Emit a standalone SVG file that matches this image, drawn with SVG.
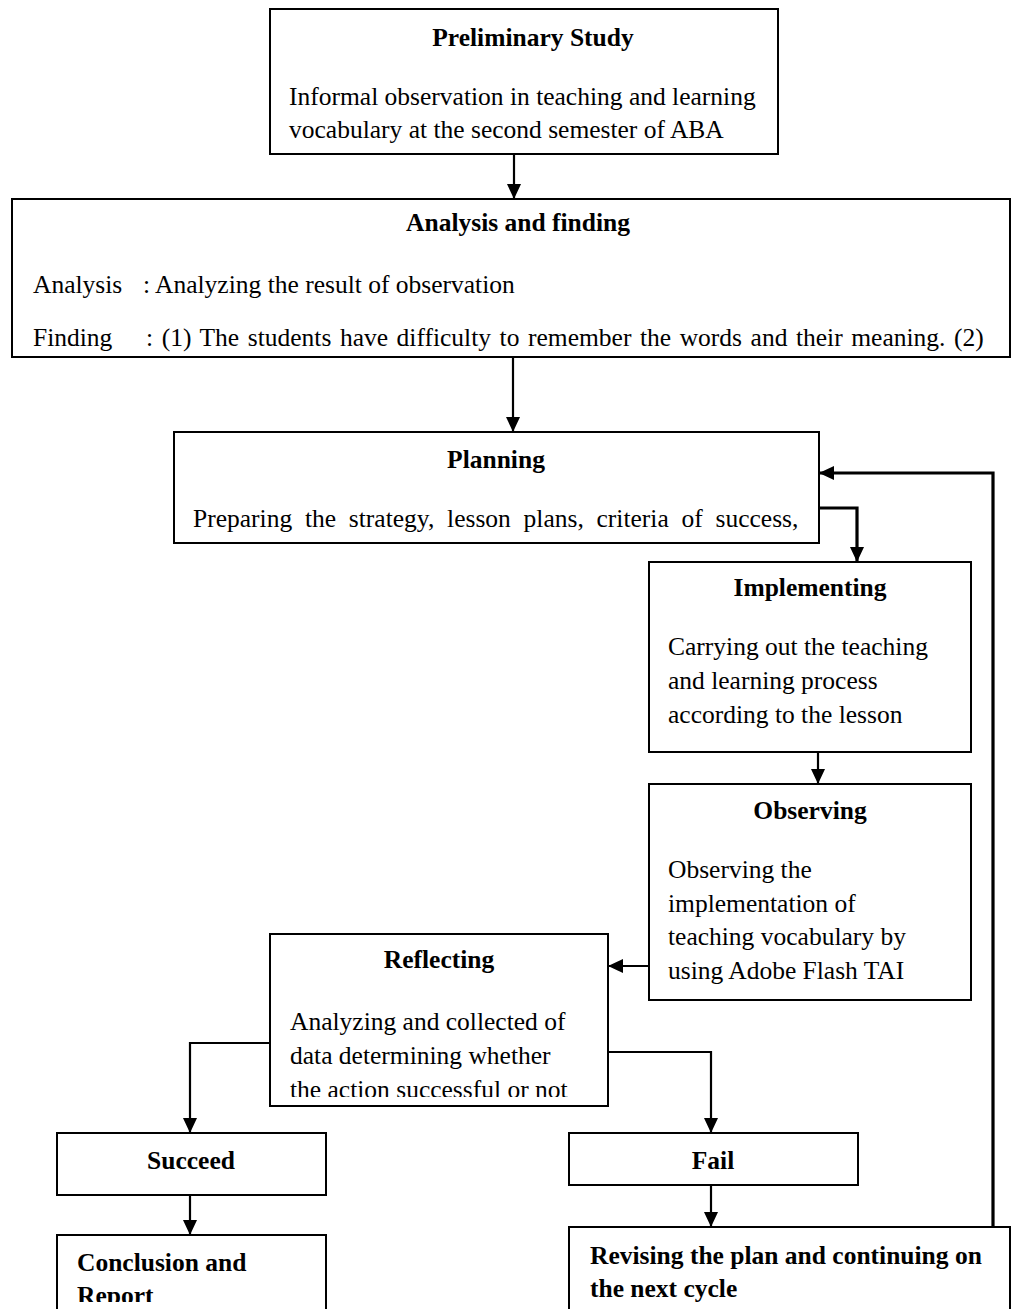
<svg xmlns="http://www.w3.org/2000/svg" width="1012" height="1309" viewBox="0 0 1012 1309">
<style>
  .box { fill: #fff; stroke: #000; stroke-width: 2; }
  .t { font-family: "Liberation Serif", "Times New Roman", serif; font-size: 25.5px; fill: #000; }
  .b { font-weight: bold; }
  .c { text-anchor: middle; }
  .ln { fill: none; stroke: #000; stroke-width: 2.2; }
  .thick { stroke-width: 3.2; }
</style>
<defs>
  <marker id="ah" markerWidth="15" markerHeight="14" refX="15" refY="7" orient="auto" markerUnits="userSpaceOnUse">
    <path d="M0,0 L15,7 L0,14 z" fill="#000"/>
  </marker>
  <clipPath id="clipRefl"><rect x="270" y="934" width="338" height="163"/></clipPath>
  <clipPath id="clipConc"><rect x="57" y="1235" width="269" height="67"/></clipPath>
</defs>
<rect width="1012" height="1309" fill="#fff"/>

<g id="connectors">
  <path class="ln" d="M514,154 L514,199" marker-end="url(#ah)"/>
  <path class="ln" d="M513,357 L513,432" marker-end="url(#ah)"/>
  <path class="ln thick" d="M819,508 L857,508 L857,562" marker-end="url(#ah)"/>
  <path class="ln" d="M818,752 L818,784" marker-end="url(#ah)"/>
  <path class="ln" d="M649,966 L608,966" marker-end="url(#ah)"/>
  <path class="ln" d="M270,1043 L190,1043 L190,1133" marker-end="url(#ah)"/>
  <path class="ln" d="M608,1052 L711,1052 L711,1133" marker-end="url(#ah)"/>
  <path class="ln" d="M190,1195 L190,1235" marker-end="url(#ah)"/>
  <path class="ln" d="M711,1185 L711,1227" marker-end="url(#ah)"/>
  <path class="ln thick" d="M993,1227 L993,473 L819,473" marker-end="url(#ah)"/>
</g>

<g id="preliminary">
  <rect class="box" x="270" y="9" width="508" height="145"/>
  <text class="t b c" x="533" y="46">Preliminary Study</text>
  <text class="t" x="289" y="105">Informal observation in teaching and learning</text>
  <text class="t" x="289" y="138">vocabulary at the second semester of ABA</text>
</g>

<g id="analysis">
  <rect class="box" x="12" y="199" width="998" height="158"/>
  <text class="t b c" x="518" y="231">Analysis and finding</text>
  <text class="t" x="33" y="293">Analysis</text>
  <text class="t" x="143" y="293">: Analyzing the result of observation</text>
  <text class="t" x="33" y="346">Finding</text>
  <text class="t" x="146" y="346" word-spacing="2.2">: (1) The students have difficulty to remember the words and their meaning. (2)</text>
</g>

<g id="planning">
  <rect class="box" x="174" y="432" width="645" height="111"/>
  <text class="t b c" x="496" y="468">Planning</text>
  <text class="t" x="193" y="527" word-spacing="6.4">Preparing the strategy, lesson plans, criteria of success,</text>
</g>

<g id="implementing">
  <rect class="box" x="649" y="562" width="322" height="190"/>
  <text class="t b c" x="810" y="596">Implementing</text>
  <text class="t" x="668" y="655">Carrying out the teaching</text>
  <text class="t" x="668" y="689">and learning process</text>
  <text class="t" x="668" y="723">according to the lesson</text>
</g>

<g id="observing">
  <rect class="box" x="649" y="784" width="322" height="216"/>
  <text class="t b c" x="810" y="819">Observing</text>
  <text class="t" x="668" y="878">Observing the</text>
  <text class="t" x="668" y="912">implementation of</text>
  <text class="t" x="668" y="945">teaching vocabulary by</text>
  <text class="t" x="668" y="979">using Adobe Flash TAI</text>
</g>

<g id="reflecting">
  <rect class="box" x="270" y="934" width="338" height="172"/>
  <text class="t b c" x="439" y="968">Reflecting</text>
  <g clip-path="url(#clipRefl)">
    <text class="t" x="290" y="1030">Analyzing and collected of</text>
    <text class="t" x="290" y="1064">data determining whether</text>
    <text class="t" x="290" y="1098">the action successful or not</text>
  </g>
</g>

<g id="succeed">
  <rect class="box" x="57" y="1133" width="269" height="62"/>
  <text class="t b c" x="191" y="1169">Succeed</text>
</g>

<g id="conclusion">
  <rect class="box" x="57" y="1235" width="269" height="90"/>
  <g clip-path="url(#clipConc)">
    <text class="t b" x="77" y="1271">Conclusion and</text>
    <text class="t b" x="77" y="1304">Report</text>
  </g>
</g>

<g id="fail">
  <rect class="box" x="569" y="1133" width="289" height="52"/>
  <text class="t b c" x="713" y="1169">Fail</text>
</g>

<g id="revising">
  <rect class="box" x="569" y="1227" width="441" height="90"/>
  <text class="t b" x="590" y="1264">Revising the plan and continuing on</text>
  <text class="t b" x="590" y="1297">the next cycle</text>
</g>
</svg>
